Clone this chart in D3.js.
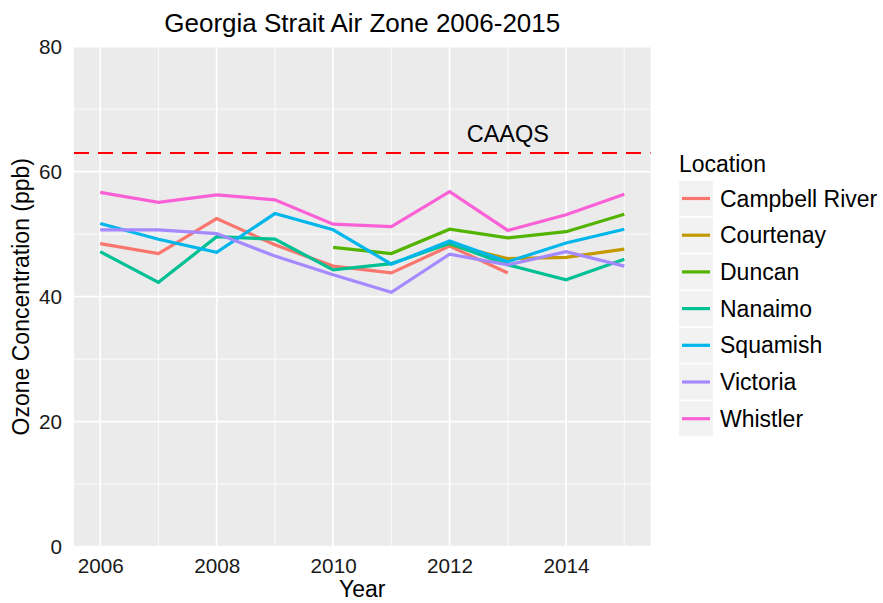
<!DOCTYPE html>
<html lang="en">
<head>
<meta charset="utf-8">
<title>Georgia Strait Air Zone</title>
<script src="https://d3js.org/d3.v7.min.js"></script>
<style>
  body { margin: 0; background: #fff; }
  text { font-family: "Liberation Sans", Arial, sans-serif; }
</style>
</head>
<body>
<script>
var years = [2006, 2007, 2008, 2009, 2010, 2011, 2012, 2013, 2014, 2015];
var locations = ["Campbell River", "Courtenay", "Duncan", "Nanaimo", "Squamish", "Victoria", "Whistler"];
var colors = ["#F8766D", "#C49A00", "#53B400", "#00C094", "#00B6EB", "#A58AFF", "#FB61D7"];

// null = no measurement that year
var campbellRiver = [48.5, 46.9, 52.5, 48.3, 44.9, 43.8, 48.1, 43.8, null, null];
var courtenay     = [null, null, null, null, null, null, 48.3, 46.1, 46.3, 47.6];
var duncan        = [null, null, null, null, 47.9, 46.9, 50.8, 49.4, 50.4, 53.2];
var nanaimo       = [47.2, 42.3, 49.6, 49.2, 44.3, 45.3, 48.5, 45.1, 42.7, 46.0];
var squamish      = [51.7, 49.2, 47.1, 53.3, 50.7, 45.2, 48.9, 45.6, 48.6, 50.8];
var victoria      = [50.7, 50.7, 50.1, 46.5, 43.5, 40.7, 46.8, 45.1, 47.2, 44.9];
var whistler      = [56.7, 55.1, 56.3, 55.5, 51.6, 51.2, 56.8, 50.6, 53.1, 56.4];
var seriesValues = [campbellRiver, courtenay, duncan, nanaimo, squamish, victoria, whistler];

var caaqs = 63;
var xTicks = [2006, 2008, 2010, 2012, 2014];
var yTicks = [0, 20, 40, 60, 80];
var yMinor = [10, 30, 50, 70];
var xMinor = [2007, 2009, 2011, 2013, 2015];

var W = 883, H = 603;
var panel = { left: 74, right: 650.5, top: 46.7, bottom: 546.7 };

var svg = d3.select("body").append("svg").attr("width", W).attr("height", H);

var x = d3.scaleLinear()
    .domain([2006 - 0.45, 2015 + 0.45])
    .range([panel.left, panel.right]);
var y = d3.scaleLinear().domain([0, 80]).range([panel.bottom, panel.top]);

svg.append("rect")
    .attr("x", panel.left).attr("y", panel.top)
    .attr("width", panel.right - panel.left).attr("height", panel.bottom - panel.top)
    .attr("fill", "#EBEBEB");

var grid = svg.append("g");
grid.selectAll(".ymin").data(yMinor).enter().append("line")
    .attr("x1", panel.left).attr("x2", panel.right)
    .attr("y1", d => y(d)).attr("y2", d => y(d))
    .attr("stroke", "#fff").attr("stroke-width", 0.8);
grid.selectAll(".xmin").data(xMinor).enter().append("line")
    .attr("y1", panel.top).attr("y2", panel.bottom)
    .attr("x1", d => x(d)).attr("x2", d => x(d))
    .attr("stroke", "#fff").attr("stroke-width", 0.8);
grid.selectAll(".ymaj").data(yTicks).enter().append("line")
    .attr("x1", panel.left).attr("x2", panel.right)
    .attr("y1", d => y(d)).attr("y2", d => y(d))
    .attr("stroke", "#fff").attr("stroke-width", 1.7);
grid.selectAll(".xmaj").data(xTicks).enter().append("line")
    .attr("y1", panel.top).attr("y2", panel.bottom)
    .attr("x1", d => x(d)).attr("x2", d => x(d))
    .attr("stroke", "#fff").attr("stroke-width", 1.7);

// lines
var line = d3.line()
    .defined(d => d.v != null)
    .x(d => x(d.year))
    .y(d => y(d.v));

svg.append("g").selectAll("path")
    .data(seriesValues)
    .enter().append("path")
    .attr("d", vals => line(vals.map((v, i) => ({ year: years[i], v: v }))))
    .attr("fill", "none")
    .attr("stroke", (d, i) => colors[i])
    .attr("stroke-width", 3.2);

// CAAQS reference line
svg.append("line")
    .attr("x1", panel.left).attr("x2", panel.right)
    .attr("y1", y(caaqs)).attr("y2", y(caaqs))
    .attr("stroke", "#FF0000").attr("stroke-width", 2)
    .attr("stroke-dasharray", "15,9");
svg.append("text")
    .attr("x", x(2013)).attr("y", y(caaqs) - 10.5)
    .attr("text-anchor", "middle")
    .attr("font-size", 23.5)
    .text("CAAQS");

// axes
var xAxis = svg.append("g").attr("transform", "translate(0," + panel.bottom + ")")
    .call(d3.axisBottom(x).tickValues(xTicks).tickFormat(d3.format("d")).tickSize(0).tickPadding(12));
var yAxis = svg.append("g").attr("transform", "translate(" + panel.left + ",0)")
    .call(d3.axisLeft(y).tickValues(yTicks).tickSize(0).tickPadding(12));
[xAxis, yAxis].forEach(function(a) {
    a.select(".domain").remove();
    a.selectAll("text").attr("font-size", 20.7).attr("fill", "#1a1a1a")
        .style("font-family", "Liberation Sans, Arial, sans-serif");
});

svg.append("text")
    .attr("x", (panel.left + panel.right) / 2).attr("y", 597)
    .attr("text-anchor", "middle").attr("font-size", 23)
    .text("Year");
svg.append("text")
    .attr("transform", "translate(29," + ((panel.top + panel.bottom) / 2) + ") rotate(-90)")
    .attr("text-anchor", "middle").attr("font-size", 23)
    .text("Ozone Concentration (ppb)");
svg.append("text")
    .attr("x", (panel.left + panel.right) / 2).attr("y", 32)
    .attr("text-anchor", "middle").attr("font-size", 26)
    .text("Georgia Strait Air Zone 2006-2015");

// legend
var legend = svg.append("g").attr("transform", "translate(679,0)");
legend.append("text").attr("x", 0).attr("y", 172).attr("font-size", 23).text("Location");
var rowH = 36.7;
var items = legend.selectAll(".item").data(locations).enter().append("g")
    .attr("transform", (d, i) => "translate(0," + (181 + i * rowH) + ")");
items.append("rect")
    .attr("width", 34).attr("height", 35)
    .attr("fill", "#F2F2F2");
items.append("line")
    .attr("x1", 3).attr("x2", 31).attr("y1", 17.5).attr("y2", 17.5)
    .attr("stroke", (d, i) => colors[i]).attr("stroke-width", 3.2);
items.append("text")
    .attr("x", 41).attr("y", 17.5).attr("dy", "0.35em")
    .attr("font-size", 23)
    .text(d => d);
</script>
</body>
</html>
